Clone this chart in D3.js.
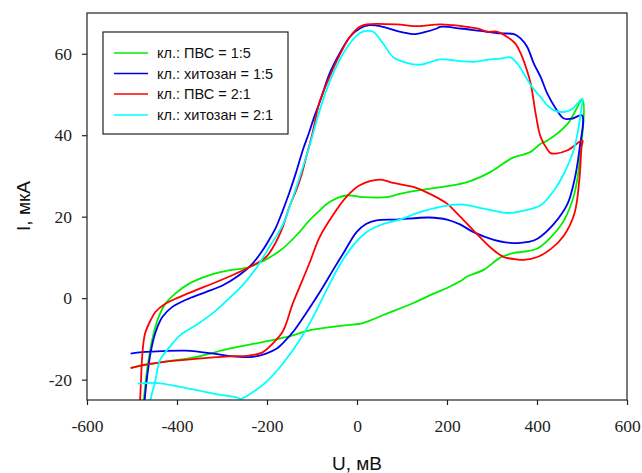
<!DOCTYPE html>
<html>
<head>
<meta charset="utf-8">
<script src="https://cdn.jsdelivr.net/npm/d3@7"></script>
<style>
  html, body { margin: 0; padding: 0; background: #fff; }
  svg { display: block; }
</style>
</head>
<body>
<svg id="chart" width="642" height="473"></svg>
<script>
// ---- data (U in mV, I in µA), each loop in scan order ----
const xTicks = [-600, -400, -200, 0, 200, 400, 600];
const yTicks = [-20, 0, 20, 40, 60];
const seriesNames = ["кл.: ПВС = 1:5", "кл.: хитозан = 1:5", "кл.: ПВС = 2:1", "кл.: хитозан = 2:1"];
const seriesColors = ["#00ee00", "#0000ee", "#ff0000", "#00ffff"];

// ПВС 1:5 (green)
const pvs15U = [-503,-433,-359,-284,-210,-150,-106,-60,-20,13,66,125,170,200,230,245,282,319,349,371,401,431,460,483,494,501,
  468,423,408,386,349,341,297,245,200,140,95,66,13,-24,-61,-83,-106,-128,-173,-240,-285,-329,-374,-404,-426,-441,-452,-460,-467,-474,-480];
const pvs15I = [-17.1,-15.7,-14.5,-12.4,-10.8,-9.4,-7.9,-7.1,-6.6,-6.1,-3.8,-1.2,1.1,2.5,4.2,5.3,7.0,10.0,11.1,11.4,12.2,15.0,19.1,25.6,33.0,48.6,
  42.8,38.7,37.9,35.9,34.6,34.2,31.0,28.5,27.5,26.5,25.6,24.8,24.8,25.2,23.6,21.5,19.1,16.2,11.5,7.6,6.8,5.6,3.5,1.1,-1.4,-4.7,-8.7,-13,-18,-25.1,-32];

// хитозан 1:5 (blue)
const chit15U = [-503,-470,-433,-381,-314,-277,-232,-202,-180,-160,-140,-121,-100,-76,-50,-31,-1,20,43,88,160,200,229,259,304,330,356,380,401,438,468,483,494,500,
  479,460,442,423,408,393,378,364,349,319,274,230,185,177,150,125,105,88,51,28,6,-16,-39,-61,-80,-95,-107,-120,-135,-150,-165,-180,-195,-210,-232,-262,-299,-336,-374,-411,-433,-448,-458,-466,-472,-476];
const chit15I = [-13.6,-13.2,-13.0,-12.9,-13.7,-14.3,-14.4,-13.6,-12.5,-10.5,-8.0,-5.0,-1.5,2.7,7.5,10.9,16.2,18.2,19.1,19.3,19.8,19.3,18.1,16.2,14.3,13.7,13.5,13.8,14.6,18.3,23.2,28.9,36.3,44.9,
  44.1,44.1,46.5,50.2,54.3,57.6,61.7,63.7,64.8,65.0,65.6,66.2,66.6,66.2,65.3,64.8,65.2,65.6,66.8,67.0,66.2,64.1,60.0,55.1,49.0,44.5,40.5,36.5,31.0,26.0,21.5,17.4,14.4,11.7,8.5,5.6,3.1,1.5,-0.1,-2.2,-4.7,-8.5,-13,-19,-25.1,-32];

// ПВС 2:1 (red)
const pvs21U = [-503,-480,-433,-359,-284,-240,-210,-188,-165,-143,-121,-106,-83,-54,-24,6,51,80,125,162,200,225,259,296,326,350,371,401,431,460,483,494,499,501,
  468,442,430,423,408,397,386,375,364,352,334,311,289,274,244,214,185,140,125,88,21,6,-16,-39,-61,-83,-100,-112,-124,-135,-150,-165,-180,-202,-232,-270,-314,-359,-396,-426,-448,-459,-471,-477,-480,-482,-485];
const pvs21I = [-17.2,-16.5,-15.7,-14.9,-14.3,-14.1,-13.3,-11.2,-8.2,-1.4,4.5,8.5,15.0,20.3,24.8,27.7,29.1,28.3,27.3,25.6,23.2,20.5,16.6,12.5,10.1,9.6,9.4,10.1,12.1,15.4,20.7,28.9,37.1,38.7,
  36.3,35.5,35.6,36.5,39.6,45.3,52.7,56.8,60.0,62.5,64.1,65.4,65.4,66.0,66.6,67.0,67.2,66.8,66.8,67.2,67.2,66.6,64.1,59.6,54.3,48.2,40.0,35.0,30.0,26.5,22.5,17.5,13.8,10.1,8.0,6.0,3.9,1.9,0.2,-1.4,-3.4,-5.5,-8.7,-13.7,-20.2,-25.1,-32];

// хитозан 2:1 (cyan)
const chit21U = [-487,-448,-396,-351,-307,-270,-258,-232,-202,-165,-128,-98,-68,-39,-9,21,51,95,140,185,230,282,334,371,408,438,460,479,490,498,501,
  490,479,468,454,438,423,408,401,386,371,356,341,319,297,259,230,185,140,103,80,58,36,21,6,-16,-39,-61,-83,-102,-115,-128,-140,-150,-165,-195,-225,-255,-285,-322,-359,-392,-418,-438,-448,-459,-465];
const chit21I = [-21.0,-20.8,-21.7,-22.7,-23.7,-24.3,-24.7,-23.1,-20.6,-16.1,-10.4,-4.7,1.9,8.0,12.9,16.2,17.9,19.3,21.1,22.4,23.0,22.0,20.9,21.5,22.8,26.5,30.6,35.5,40.4,46.1,49.0,
  47.8,46.5,45.9,45.7,46.1,47.3,49.4,50.2,52.3,55.1,57.6,59.1,58.8,58.6,58.0,58.2,58.6,57.3,58.0,59.2,62.5,65.4,65.6,65.0,62.5,58.4,53.1,46.1,38.7,34.0,29.5,25.5,22.4,18.0,12.5,7.2,3.1,-0.1,-3.8,-6.7,-9.0,-12.2,-15.3,-20.2,-25.1,-32];

const seriesU = [pvs15U, chit15U, pvs21U, chit21U];
const seriesI = [pvs15I, chit15I, pvs21I, chit21I];

// ---- layout ----
const svg = d3.select("#chart");
const plot = { left: 87, right: 627, top: 13, bottom: 400 };
const x = d3.scaleLinear().domain([-600, 600]).range([plot.left, plot.right]);
const y = d3.scaleLinear().domain([-25, 70]).range([plot.bottom, plot.top]);
const serifFont = "'Liberation Serif', 'Times New Roman', serif";
const sansFont = "'Liberation Sans', Arial, sans-serif";

svg.append("defs").append("clipPath").attr("id", "clip")
  .append("rect").attr("x", plot.left).attr("y", plot.top)
  .attr("width", plot.right - plot.left).attr("height", plot.bottom - plot.top);

// data lines
const line = d3.line().x(d => x(d[0])).y(d => y(d[1])).curve(d3.curveCatmullRom.alpha(0.5));
const gLines = svg.append("g").attr("clip-path", "url(#clip)");
[0, 1, 2, 3].forEach(k => {
  const pts = seriesU[k].map((u, i) => [u, seriesI[k][i]]);
  gLines.append("path").datum(pts)
    .attr("d", line).attr("fill", "none")
    .attr("stroke", seriesColors[k]).attr("stroke-width", 1.8)
    .attr("stroke-linejoin", "round");
});

// frame
svg.append("rect").attr("x", plot.left).attr("y", plot.top)
  .attr("width", plot.right - plot.left).attr("height", plot.bottom - plot.top)
  .attr("fill", "none").attr("stroke", "#222").attr("stroke-width", 1.2);

// axes
const xAxis = d3.axisBottom(x).tickValues(xTicks).tickSize(5).tickSizeOuter(0).tickFormat(d => String(d));
const gx = svg.append("g").attr("transform", `translate(0,${plot.bottom})`).call(xAxis);
gx.attr("font-family", serifFont).attr("font-size", 17.5);
gx.select(".domain").remove();
gx.selectAll("line").attr("stroke", "#222").attr("stroke-width", 1.2);
gx.selectAll("text").attr("y", 32).attr("dy", null)
  .style("font-family", serifFont).style("font-size", "17.5px").attr("fill", "#222");

const yAxis = d3.axisLeft(y).tickValues(yTicks).tickSize(5).tickSizeOuter(0).tickPadding(10).tickFormat(d => String(d));
const gy = svg.append("g").attr("transform", `translate(${plot.left},0)`).call(yAxis);
gy.attr("font-family", serifFont).attr("font-size", 17.5);
gy.select(".domain").remove();
gy.selectAll("line").attr("stroke", "#222").attr("stroke-width", 1.2);
gy.selectAll("text").style("font-family", serifFont).style("font-size", "17.5px").attr("fill", "#222");

// axis titles
svg.append("text").attr("x", 357).attr("y", 470).attr("text-anchor", "middle")
  .attr("font-family", sansFont).attr("font-size", 19).attr("fill", "#111")
  .text("U, мВ");
svg.append("text").attr("transform", "translate(30,206) rotate(-90)").attr("text-anchor", "middle")
  .attr("font-family", sansFont).attr("font-size", 19).attr("fill", "#111")
  .text("I, мкА");

// legend
const lg = svg.append("g");
lg.append("rect").attr("x", 103).attr("y", 32).attr("width", 185).attr("height", 102)
  .attr("fill", "#fff").attr("stroke", "#222").attr("stroke-width", 1.2);
const rowY = [53, 73.5, 94, 115];
seriesNames.forEach((name, k) => {
  lg.append("line").attr("x1", 114).attr("x2", 148).attr("y1", rowY[k]).attr("y2", rowY[k])
    .attr("stroke", seriesColors[k]).attr("stroke-width", 1.5);
  lg.append("text").attr("x", 157).attr("y", rowY[k] + 5)
    .attr("font-family", sansFont).attr("font-size", 14.5).attr("fill", "#111")
    .text(name);
});
</script>
</body>
</html>
